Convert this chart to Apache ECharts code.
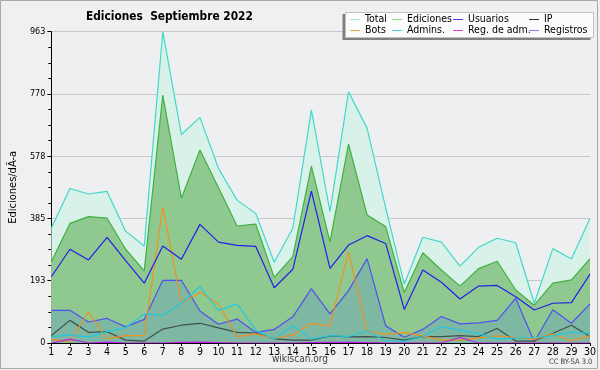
<!DOCTYPE html>
<html><head><meta charset="utf-8">
<script src="https://cdn.jsdelivr.net/npm/echarts@6/dist/echarts.min.js"></script>
<style>html,body{margin:0;padding:0;background:#f0f0f0}#c{width:600px;height:370px}</style>
</head><body><div id="c"></div>
<script>
const days = ['1','2','3','4','5','6','7','8','9','10','11','12','13','14','15','16','17','18','19','20','21','22','23','24','25','26','27','28','29','30'];
const yTicks = [0,193,385,578,770,963];
const total = [356,478,461,469,346,300,963,645,698,540,442,401,250,355,721,406,777,664,418,182,327,312,238,296,324,310,123,292,260,386];
const ediciones = [251,370,391,386,290,223,767,448,597,480,362,368,203,267,547,313,615,396,360,156,279,226,176,230,253,164,117,185,195,261];
const usuarios = [205,290,257,327,255,185,300,259,367,312,302,299,171,228,470,231,303,332,308,104,226,188,136,176,178,143,102,123,125,213];
const ip = [23,70,33,35,9,6,43,55,61,47,33,31,13,9,9,22,19,20,17,9,20,20,23,20,45,6,6,30,55,20];
const bots = [11,4,96,13,23,23,420,123,157,120,20,28,14,25,61,53,282,35,27,32,22,9,9,16,22,17,11,28,7,22];
const admins = [20,25,18,35,48,90,85,123,174,101,121,40,12,54,12,23,20,37,7,5,20,50,40,28,13,15,17,22,34,30];
const regadm = [0,12,0,3,0,0,0,2,3,1,0,0,0,0,1,2,2,1,0,0,0,0,17,0,0,0,0,0,0,0];
const registros = [101,101,65,76,50,73,194,194,99,58,74,33,42,81,168,90,162,261,53,18,42,82,59,62,70,138,4,103,61,121];

const FONT = '"DejaVu Sans Condensed","DejaVu Sans",sans-serif';
const chart = echarts.init(document.getElementById('c'), null, {renderer:'canvas'});
function line(name, data, color, z, area){
  const s = {name, type:'line', data, symbol:'none', z, smooth:false,
    lineStyle:{color, width:1.2}, itemStyle:{color}};
  if (area) s.areaStyle = area;
  return s;
}
function leg(names, left, colors){
  return {orient:'vertical', left, top:14, itemWidth:10, itemHeight:1, itemGap:0, icon:'rect', z:120, padding:0,
    data:names.map((n,i)=>({name:n, itemStyle:{color:colors[i]}, lineStyle:{color:colors[i]}})),
    textStyle:{fontFamily:FONT, fontSize:10.5, color:'#000', lineHeight:10, padding:[0,0,0,0]}, selectedMode:false};
}
chart.setOption({
  animation:false,
  backgroundColor:'#f0f0f0',
  title:{text:'Ediciones  Septiembre 2022', left:81, top:6, textStyle:{fontFamily:FONT, fontSize:11.8, fontWeight:'bold', color:'#000'}},
  grid:{left:46, right:10, top:31.7, bottom:27, show:true, backgroundColor:'#eeeff1', borderWidth:0},
  legend:[
    leg(['Total','Bots'], 350, ['#a8e6dc','#f5a040']),
    leg(['Ediciones','Admins.'], 392, ['#90d890','#40d0e0']),
    leg(['Usuarios','Reg. de adm.'], 453, ['#4040e0','#d040e0']),
    leg(['IP','Registros'], 529, ['#303030','#8080f0'])
  ],
  xAxis:{type:'category', data:days, boundaryGap:false,
    axisLine:{lineStyle:{color:'#000', width:1}},
    axisTick:{show:true, alignWithLabel:true, length:3, lineStyle:{color:'#000'}},
    axisLabel:{fontFamily:FONT, fontSize:10.5, color:'#000', margin:4, interval:0},
    splitLine:{show:false}},
  yAxis:{type:'value', min:0, max:963, interval:192.6,
    name:'Ediciones/dÃ-a', nameLocation:'middle', nameGap:30, nameRotate:90,
    nameTextStyle:{fontFamily:FONT, fontSize:11, color:'#000'},
    axisLine:{show:true, lineStyle:{color:'#000', width:1}},
    axisTick:{show:true, length:4, lineStyle:{color:'#000'}},
    minorTick:{show:true, splitNumber:4, length:3, lineStyle:{color:'#000'}},
    axisLabel:{fontFamily:FONT, fontSize:9, color:'#000', margin:6,
      formatter:v=>{const t=yTicks.find(k=>Math.abs(k-v)<1);return t===undefined?'':String(t);}},
    splitLine:{show:true, lineStyle:{color:'#c8c8c8', width:1}}},
  series:[
    line('Total', total, '#40d8c8', 2, {color:'#d8f2ea', opacity:1}),
    line('Ediciones', ediciones, '#40b040', 3, {color:'#90c990', opacity:1}),
    line('Registros', registros, '#5050f0', 4, {color:'rgba(80,136,208,0.28)', opacity:1}),
    line('IP', ip, '#405050', 5),
    line('Bots', bots, '#f09020', 6),
    line('Admins.', admins, '#20c8e0', 6),
    line('Reg. de adm.', regadm, '#c020e0', 6),
    line('Usuarios', usuarios, '#2020e8', 7)
  ],
  graphic:[
    {type:'rect', shape:{x:0.5,y:0.5,width:597,height:368}, style:{fill:'none', stroke:'#a8a8a8', lineWidth:1}, z:100},
    {type:'rect', shape:{x:342.5,y:14,width:248,height:26}, style:{fill:'#808080'}, z:90},
    {type:'rect', shape:{x:345.5,y:12.5,width:248,height:25}, style:{fill:'#fcfcfc', stroke:'#c0c0c0', lineWidth:1}, z:91},
    {type:'text', left:'center', top:354, style:{text:'wikiscan.org', font:'10px '+FONT, fill:'#404040'}, z:100},
    {type:'text', left:549, top:358, style:{text:'CC BY-SA 3.0', font:'7.5px '+FONT, fill:'#404040'}, z:100}
  ]
});
</script></body></html>
